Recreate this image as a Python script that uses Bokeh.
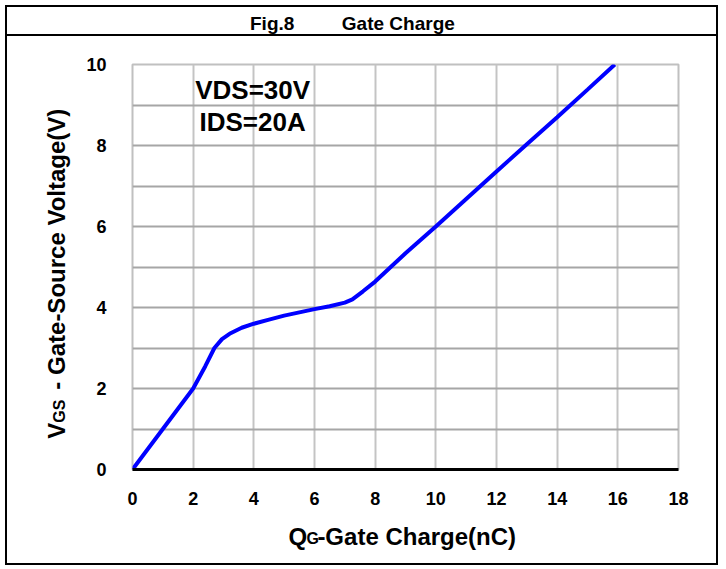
from bokeh.plotting import figure
from bokeh.models import Range1d, FixedTicker, Label, LinearAxis, Div
from bokeh.layouts import column
from bokeh.embed import file_html
from bokeh.resources import INLINE

qg = [0, 1, 2, 2.4, 2.7, 2.95, 3.2, 3.6, 4.0, 4.5, 5.0, 5.5, 6.0, 6.5, 7.0, 7.25,
      7.6, 8.0, 9.0, 10.0, 11.0, 12.0, 13.0, 14.0, 15.0, 15.9]
vgs = [0, 1.0, 2.0, 2.55, 3.0, 3.22, 3.35, 3.5, 3.6, 3.7, 3.8, 3.88, 3.96, 4.03, 4.12, 4.2,
       4.4, 4.64, 5.34, 6.0, 6.68, 7.36, 8.03, 8.7, 9.38, 10.0]
x_ticks = [0, 2, 4, 6, 8, 10, 12, 14, 16, 18]
y_ticks = [0, 2, 4, 6, 8, 10]
y_grid = [0, 1, 2, 3, 4, 5, 6, 7, 8, 9, 10]

title_text = "Fig.8         Gate Charge"
x_label_parts = ["Q", "G", "-Gate Charge(nC)"]
y_label_parts = ["V", "GS", "- Gate-Source Voltage(V)"]
notes = ["VDS=30V", "IDS=20A"]

FONT = "Liberation Sans"

p = figure(width=709, height=527, output_backend="svg", toolbar_location=None,
           x_range=Range1d(0, 18), y_range=Range1d(0, 10),
           min_border_left=125, min_border_right=38, min_border_top=28, min_border_bottom=94)
p.outline_line_color = "#c0c0c0"
p.outline_line_width = 2

p.xaxis.ticker = FixedTicker(ticks=x_ticks)
p.yaxis.ticker = FixedTicker(ticks=y_ticks)
p.xgrid.ticker = FixedTicker(ticks=x_ticks)
p.ygrid.ticker = FixedTicker(ticks=y_grid)
p.xgrid.grid_line_color = "#c4c4c4"
p.ygrid.grid_line_color = "#a6a6a6"
p.xgrid.grid_line_width = 2
p.ygrid.grid_line_width = 2

for ax in (p.xaxis, p.yaxis):
    ax.major_tick_line_color = None
    ax.minor_tick_line_color = None
    ax.major_label_text_font = FONT
    ax.major_label_text_font_style = "bold"
    ax.major_label_text_font_size = "18px"
    ax.major_label_text_color = "black"
p.xaxis.axis_line_color = "black"
p.xaxis.axis_line_width = 3
p.xaxis.major_label_standoff = 16
p.yaxis.axis_line_color = None
p.yaxis.major_label_standoff = 20

p.line(qg, vgs, line_color="#0000ff", line_width=4)

for txt, yy in zip(notes, (9.38, 8.57)):
    p.add_layout(Label(x=3.96, y=yy, text=txt, text_align="center", text_baseline="middle",
                       text_font=FONT, text_font_style="bold", text_font_size="26px",
                       text_color="black"))


def label_axis(positions, texts, size, standoff, side, orientation="horizontal"):
    ax = LinearAxis(ticker=FixedTicker(ticks=positions),
                    major_label_overrides={pos: t for pos, t in zip(positions, texts)},
                    axis_line_color=None, major_tick_line_color=None, minor_tick_line_color=None,
                    major_label_text_font=FONT, major_label_text_font_style="bold",
                    major_label_text_font_size=size, major_label_text_color="black",
                    major_label_standoff=standoff, major_label_orientation=orientation)
    p.add_layout(ax, side)
    return ax


# x-axis title "QG-Gate Charge(nC)" (G smaller)
label_axis([5.45, 9.37], [x_label_parts[0], x_label_parts[2]], "24px", 9, "below")
label_axis([5.94], [x_label_parts[1]], "16px", -29, "below")

# y-axis title "VGS - Gate-Source Voltage(V)" (GS smaller)
label_axis([0.96, 5.44], [y_label_parts[0], y_label_parts[2]], "24px", 7, "left", "vertical")
label_axis([1.44], [y_label_parts[1]], "16px", -34, "left", "vertical")

header = Div(text="<div style=\"font-family:'Liberation Sans';font-weight:bold;font-size:19px;"
                  "white-space:pre;padding-left:243px;line-height:29px;position:relative;top:2px;\">"
                  + title_text + "</div>",
             width=709, height=29, margin=0, styles={"border-bottom": "2px solid black"})

layout = column(header, p, spacing=0, margin=(5, 0, 0, 5),
                styles={"border": "2px solid black"})

open("out.html", "w").write(file_html(layout, INLINE))
